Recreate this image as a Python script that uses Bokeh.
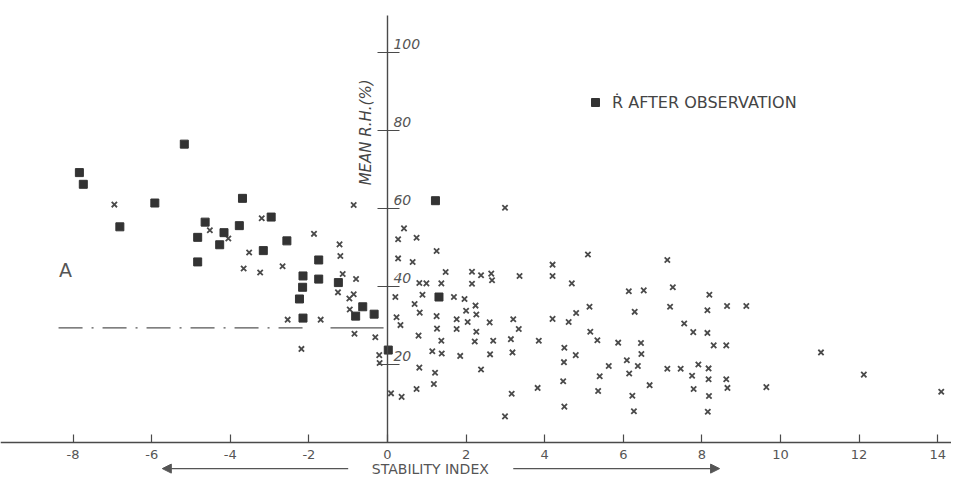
import numpy as np
from bokeh.plotting import figure
from bokeh.models import LinearAxis, FixedTicker, Arrow, NormalHead, Legend, LegendItem
from bokeh.core.properties import value
from bokeh.embed import file_html
from bokeh.resources import INLINE

# ---- data ----
x_ticks = [-8, -6, -4, -2, 0, 2, 4, 6, 8, 10, 12, 14]
x_tick_labels = ["-8", "-6", "-4", "-2", "0", "2", "4", "6", "8", "10", "12", "14"]
y_ticks = [20, 40, 60, 80, 100]
y_tick_labels = ["20", "40", "60", "80", "100"]

# R after observation (filled squares)
sq_x = [-7.84, -7.74, -5.17, -5.92, -6.81, -3.69, -4.64, -4.83, -4.16, -4.27,
        -3.77, -4.83, -2.96, -3.16, -2.56, -1.75, -1.75, -2.15, -2.16, -2.24,
        -2.15, -1.25, -0.63, -0.81, -0.34, 1.22, 1.31, 0.02]
sq_y = [69.2, 66.2, 76.5, 61.4, 55.3, 62.6, 56.5, 52.6, 53.8, 50.7,
        55.6, 46.3, 57.8, 49.2, 51.7, 46.8, 41.9, 42.7, 39.8, 36.8,
        31.9, 41.0, 34.8, 32.4, 32.9, 62.0, 37.3, 23.7]

# other cases (crosses)
cx_x = [-6.95, -4.52, -4.05, -3.20, -3.52, -3.66, -3.24, -2.67, -1.87, -2.54,
        -1.70, -2.19, -1.22, -1.20, -1.14, -0.80, -1.26, -0.86, -0.97, -0.96,
        -0.86, -0.84, -0.31, -0.21, -0.20,
        0.20, 0.42, 0.27, 0.74, 0.27, 0.64, 1.25, 1.48, 0.81, 0.99,
        1.37, 0.89, 0.69, 0.82, 0.23, 0.33, 0.79, 1.25, 1.26, 1.37,
        1.14, 1.38, 0.81, 1.21, 1.18, 0.74, 0.36, 0.09,
        1.69, 1.96, 2.15, 2.38, 2.64, 2.66, 2.15, 2.24, 2.00, 2.26,
        1.76, 2.04, 1.76, 2.26, 2.22, 1.85, 2.38, 2.60, 2.69, 2.61,
        2.99, 3.36, 3.20, 3.34, 3.14, 3.18, 3.85, 3.16, 2.99, 3.82,
        4.20, 4.20, 4.20, 4.61, 4.80, 4.69, 5.10, 5.14, 5.16, 5.34,
        4.50, 4.79, 4.49, 4.47, 4.50, 5.63, 5.40, 5.36, 5.87, 6.09,
        6.15, 6.37, 6.45, 6.46, 6.14, 6.52, 6.29, 6.67, 6.23, 6.27,
        7.12, 7.26, 7.19, 7.55, 7.78, 8.14, 8.14, 8.19, 8.30, 8.62,
        8.64, 7.12, 7.46, 7.91, 8.17, 7.75, 8.17, 8.62, 7.79, 8.65,
        8.18, 8.15, 9.13, 11.03, 9.64, 12.12, 14.09]
cx_y = [61.0, 54.4, 52.3, 57.5, 48.7, 44.6, 43.6, 45.2, 53.5, 31.5,
        31.5, 24.0, 50.8, 47.8, 43.2, 41.9, 38.5, 38.0, 36.9, 34.1,
        60.9, 27.9, 27.0, 22.4, 20.4,
        37.3, 54.9, 52.1, 52.5, 47.2, 46.3, 49.1, 43.7, 40.9, 40.8,
        40.8, 37.9, 35.5, 33.3, 32.1, 30.1, 27.4, 32.4, 29.2, 26.1,
        23.4, 22.8, 19.2, 17.9, 15.0, 13.7, 11.7, 12.6,
        37.3, 36.8, 43.8, 42.9, 43.3, 41.6, 40.7, 35.1, 33.8, 32.8,
        31.6, 30.9, 29.1, 28.4, 25.9, 22.2, 18.7, 30.8, 26.1, 22.6,
        60.2, 42.7, 31.6, 29.1, 26.5, 23.1, 26.1, 12.5, 6.7, 14.0,
        45.6, 42.7, 31.7, 30.9, 33.2, 40.8, 48.2, 34.8, 28.4, 26.2,
        24.3, 22.4, 20.6, 15.7, 9.2, 19.6, 17.0, 13.2, 25.6, 21.1,
        17.7, 19.6, 25.5, 22.7, 38.8, 39.0, 33.5, 14.7, 12.0, 8.0,
        46.8, 39.8, 34.8, 30.5, 28.3, 28.1, 33.9, 37.9, 24.9, 24.9,
        35.0, 18.9, 18.9, 20.0, 19.0, 17.1, 16.2, 16.2, 13.7, 14.0,
        11.9, 7.9, 35.0, 23.1, 14.2, 17.4, 13.0]

# threshold line "A"
thresh_dash_x = [-8.37, -2.09]
thresh_solid_x = [-1.45, -0.10]
thresh_y = [29.4, 29.4]

INK = "#4a4a4a"
TXT = "#555555"
FONT = "DejaVu Sans"

p = figure(width=951, height=476, output_backend="svg", toolbar_location=None,
           x_range=(-9.847, 14.351), y_range=(-8.72, 113.33),
           x_axis_type=None, y_axis_type=None, min_border=0,
           outline_line_color=None, background_fill_color="white",
           border_fill_color="white")

# x axis through y = 0
xa = LinearAxis(fixed_location=0, ticker=FixedTicker(ticks=x_ticks),
                major_label_overrides=dict(zip(x_ticks, x_tick_labels)))
xa.major_tick_in = 8
xa.major_tick_out = 0
xa.minor_tick_line_color = None
xa.axis_line_color = INK
xa.axis_line_width = 1.4
xa.major_tick_line_color = INK
xa.major_tick_line_width = 1.2
xa.major_label_standoff = 8
xa.major_label_text_font = FONT
xa.major_label_text_font_size = "13px"
xa.major_label_text_color = TXT
p.add_layout(xa, "below")

# y axis through x = 0
ya = LinearAxis(fixed_location=0, bounds=(0, 109.5), ticker=FixedTicker(ticks=y_ticks))
ya.major_tick_in = 12
ya.major_tick_out = 10
ya.minor_tick_line_color = None
ya.axis_line_color = INK
ya.axis_line_width = 1.4
ya.major_tick_line_color = INK
ya.major_tick_line_width = 1.2
ya.major_label_text_color = None
p.add_layout(ya, "left")

# y tick labels, written above-right of each tick as in the original
p.text(x=[0.15] * len(y_ticks), y=[t + 2.3 for t in y_ticks], text=y_tick_labels,
       text_font=value(FONT), text_font_size="14px", text_font_style="italic",
       text_baseline="middle", text_align="left", text_color=TXT)

# y axis title
p.text(x=[-0.55], y=[79.5], text=["MEAN R.H.(%)"], angle=np.pi / 2,
       text_font=value(FONT), text_font_size="15px", text_font_style="italic",
       text_align="center", text_baseline="middle", text_color="#444444")

# x axis title with arrows
TY = -6.7
p.text(x=[1.09], y=[TY], text=["STABILITY INDEX"], text_font=value(FONT),
       text_font_size="14px", text_align="center", text_baseline="middle",
       text_color=TXT)
for xs, xe in [(-1.0, -5.73), (3.2, 8.45)]:
    p.add_layout(Arrow(end=NormalHead(size=9, fill_color=TXT, line_color=TXT),
                       x_start=xs, y_start=TY, x_end=xe, y_end=TY,
                       line_color=TXT, line_width=1.3))

# threshold line and "A"
p.line(thresh_dash_x, thresh_y, line_color=TXT, line_width=1.4, line_dash="24 9 2 9")
p.line(thresh_solid_x, thresh_y, line_color=TXT, line_width=1.4)
p.text(x=[-8.19], y=[44.3], text=["A"], text_font=value(FONT), text_font_size="19px",
       text_align="center", text_baseline="middle", text_color=TXT)

# points
p.scatter(cx_x, cx_y, marker="x", size=7.5, line_color=INK, line_width=1.8)
sq = p.scatter(sq_x, sq_y, marker="square", size=8, fill_color="#333333",
               line_color="#333333")

legend = Legend(items=[LegendItem(label="Ṙ AFTER OBSERVATION", renderers=[sq])],
                location=(585, 364), border_line_color=None, background_fill_alpha=0,
                padding=0, margin=0, glyph_width=20, glyph_height=20,
                label_standoff=7, label_text_font=FONT, label_text_font_size="16px",
                label_text_color="#444444")
p.add_layout(legend, "center")

open("out.html", "w").write(file_html(p, INLINE))
